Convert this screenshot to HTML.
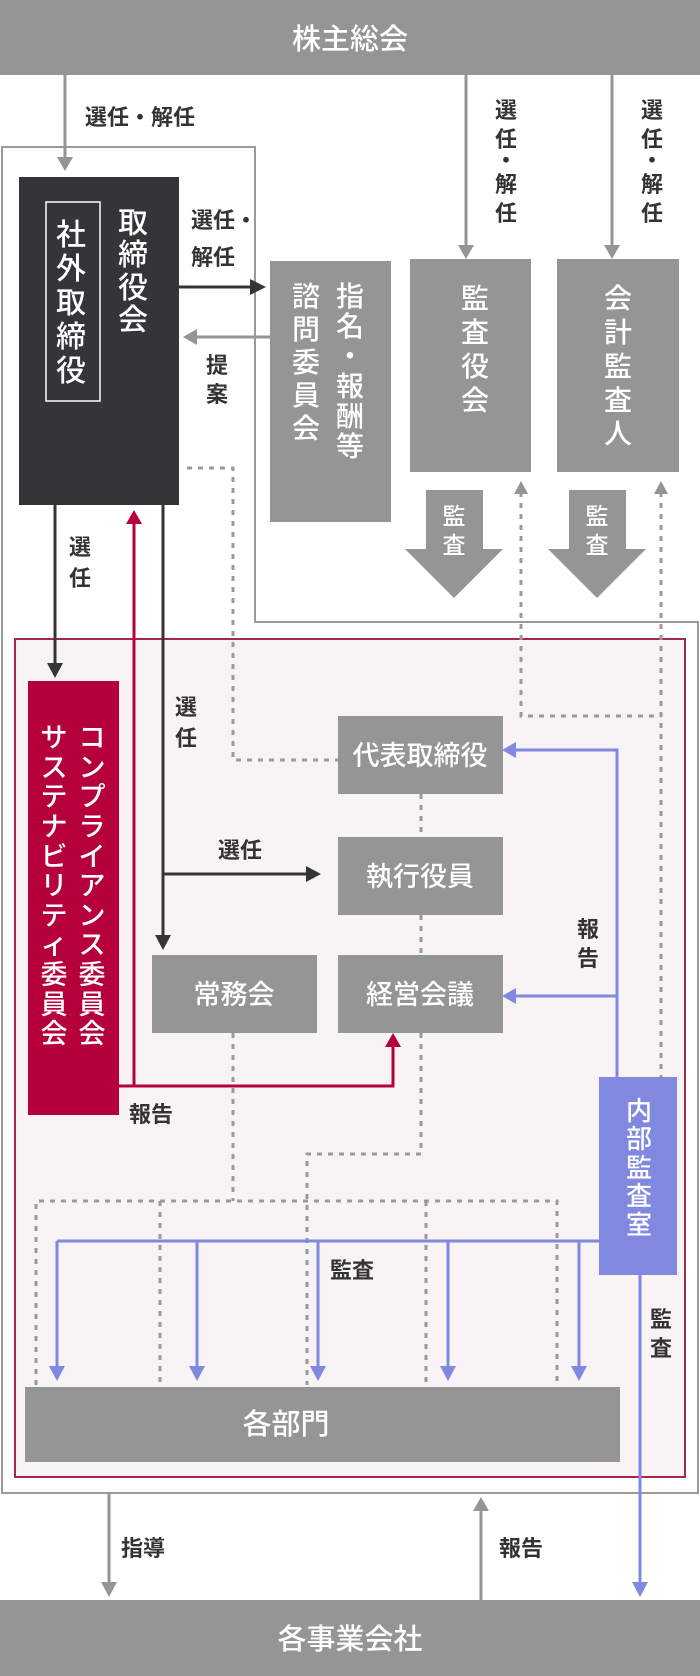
<!DOCTYPE html>
<html><head><meta charset="utf-8"><style>
html,body{margin:0;padding:0;background:#fff}
svg{display:block}
text{font-family:"Liberation Sans","Noto Sans CJK JP",sans-serif;font-weight:500}
.w{fill:#fff}.d{fill:#333;font-weight:700}
</style></head><body>
<svg width="700" height="1676" viewBox="0 0 700 1676" xmlns="http://www.w3.org/2000/svg">
<path d="M2,147 H255 V622 H698 V1493 H2 Z" fill="none" stroke="#9a9a9a" stroke-width="2"/>
<rect x="15" y="639" width="670" height="838" fill="#f8f3f5" stroke="#a3284d" stroke-width="2"/>

<rect x="0" y="0" width="700" height="75" fill="#959595"/>
<text x="350" y="49" font-size="29" class="w" text-anchor="middle">株主総会</text>
<rect x="0" y="1600" width="700" height="76" fill="#959595"/>
<text x="350" y="1649" font-size="29" class="w" text-anchor="middle">各事業会社</text>

<g stroke="#959595" stroke-width="3" fill="none">
<line x1="65" y1="75" x2="65" y2="160"/>
<line x1="466" y1="75" x2="466" y2="247"/>
<line x1="612" y1="75" x2="612" y2="247"/>
<line x1="270" y1="337" x2="195" y2="337"/>
<line x1="109" y1="1493" x2="109" y2="1584"/>
<line x1="481" y1="1600" x2="481" y2="1508"/>
</g>
<g fill="#959595">
<polygon points="57,157 73,157 65,171"/>
<polygon points="458,245 474,245 466,259"/>
<polygon points="604,245 620,245 612,259"/>
<polygon points="197,329 197,345 183,337"/>
<polygon points="101,1582 117,1582 109,1597"/>
<polygon points="473,1511 489,1511 481,1497"/>
<polygon points="426,490 483,490 483,549 503,549 454,598 405,549 426,549"/>
<polygon points="569,490 626,490 626,549 646,549 597,598 548,549 569,549"/>
</g>
<text x="85" y="125" font-size="22" class="d">選任・解任</text>

<g stroke="#9a9a9a" stroke-width="3" fill="none" stroke-dasharray="5 6">
<polyline points="187,468 233,468 233,760 338,760"/>
<polyline points="521,492 521,716 661,716"/>
<polyline points="661,492 661,1077"/>
<line x1="421" y1="794" x2="421" y2="837"/>
<line x1="421" y1="915" x2="421" y2="955"/>
<polyline points="421,1033 421,1154 307,1154 307,1385"/>
<polyline points="233,1033 233,1201"/>
<polyline points="36,1385 36,1201 557,1201 557,1385"/>
<line x1="160" y1="1201" x2="160" y2="1385"/>
<line x1="426" y1="1201" x2="426" y2="1385"/>
</g>
<g fill="#959595">
<polygon points="514,494 528,494 521,481"/>
<polygon points="654,494 668,494 661,481"/>
</g>

<rect x="19" y="177" width="160" height="328" fill="#343439"/>
<rect x="46" y="202" width="54" height="199" fill="none" stroke="#fff" stroke-width="1.5"/>
<text font-size="30" class="w" text-anchor="middle"><tspan x="71" y="245">社</tspan><tspan x="71" y="279">外</tspan><tspan x="71" y="313">取</tspan><tspan x="71" y="347">締</tspan><tspan x="71" y="381">役</tspan></text>
<text font-size="30" class="w" text-anchor="middle"><tspan x="133" y="233">取</tspan><tspan x="133" y="265">締</tspan><tspan x="133" y="298">役</tspan><tspan x="133" y="330">会</tspan></text>

<g stroke="#343439" stroke-width="3" fill="none">
<line x1="179" y1="287" x2="252" y2="287"/>
<line x1="55" y1="505" x2="55" y2="665"/>
<polyline points="163,505 163,937"/>
<line x1="163" y1="874" x2="307" y2="874"/>
</g>
<g fill="#343439">
<polygon points="250,279 250,295 266,287"/>
<polygon points="47,663 63,663 55,678"/>
<polygon points="155,935 171,935 163,950"/>
<polygon points="306,866 306,882 321,874"/>
</g>
<text x="191" y="228" font-size="22" class="d">選任・</text>
<text x="191" y="265" font-size="22" class="d">解任</text>
<text font-size="22" class="d" text-anchor="middle"><tspan x="217" y="373">提</tspan><tspan x="217" y="402">案</tspan></text>

<rect x="270" y="261" width="121" height="261" fill="#959595"/>
<text font-size="28" class="w" text-anchor="middle"><tspan x="350" y="306">指</tspan><tspan x="350" y="336">名</tspan><tspan x="350" y="366">・</tspan><tspan x="350" y="396">報</tspan><tspan x="350" y="426">酬</tspan><tspan x="350" y="456">等</tspan></text>
<text font-size="28" class="w" text-anchor="middle"><tspan x="306" y="306">諮</tspan><tspan x="306" y="339">問</tspan><tspan x="306" y="372">委</tspan><tspan x="306" y="405">員</tspan><tspan x="306" y="438">会</tspan></text>

<rect x="410" y="259" width="121" height="213" fill="#959595"/>
<text font-size="28" class="w" text-anchor="middle"><tspan x="475" y="308">監</tspan><tspan x="475" y="342">査</tspan><tspan x="475" y="376">役</tspan><tspan x="475" y="410">会</tspan></text>
<rect x="557" y="259" width="122" height="213" fill="#959595"/>
<text font-size="28" class="w" text-anchor="middle"><tspan x="618" y="308">会</tspan><tspan x="618" y="342">計</tspan><tspan x="618" y="376">監</tspan><tspan x="618" y="410">査</tspan><tspan x="618" y="443">人</tspan></text>
<text font-size="22" class="d" text-anchor="middle"><tspan x="506" y="118">選</tspan><tspan x="506" y="147">任</tspan><tspan x="506" y="168">・</tspan><tspan x="506" y="192">解</tspan><tspan x="506" y="221">任</tspan></text>
<text font-size="22" class="d" text-anchor="middle"><tspan x="652" y="118">選</tspan><tspan x="652" y="147">任</tspan><tspan x="652" y="168">・</tspan><tspan x="652" y="192">解</tspan><tspan x="652" y="221">任</tspan></text>
<text font-size="23" class="w" text-anchor="middle"><tspan x="454" y="524">監</tspan><tspan x="454" y="553">査</tspan></text>
<text font-size="23" class="w" text-anchor="middle"><tspan x="597" y="524">監</tspan><tspan x="597" y="553">査</tspan></text>

<text font-size="22" class="d" text-anchor="middle"><tspan x="80" y="555">選</tspan><tspan x="80" y="586">任</tspan></text>
<text font-size="22" class="d" text-anchor="middle"><tspan x="186" y="715">選</tspan><tspan x="186" y="746">任</tspan></text>
<text x="218" y="858" font-size="22" class="d">選任</text>

<rect x="28" y="681" width="91" height="434" fill="#b5003c"/>
<text font-size="27" class="w" text-anchor="middle">
<tspan x="92" y="747">コ</tspan><tspan x="92" y="777">ン</tspan><tspan x="92" y="806">プ</tspan><tspan x="92" y="836">ラ</tspan><tspan x="92" y="866">イ</tspan><tspan x="92" y="895">ア</tspan><tspan x="92" y="925">ン</tspan><tspan x="92" y="954">ス</tspan><tspan x="92" y="984">委</tspan><tspan x="92" y="1014">員</tspan><tspan x="92" y="1043">会</tspan></text>
<text font-size="27" class="w" text-anchor="middle">
<tspan x="54" y="747">サ</tspan><tspan x="54" y="777">ス</tspan><tspan x="54" y="806">テ</tspan><tspan x="54" y="836">ナ</tspan><tspan x="54" y="866">ビ</tspan><tspan x="54" y="895">リ</tspan><tspan x="54" y="925">テ</tspan><tspan x="54" y="954">ィ</tspan><tspan x="54" y="984">委</tspan><tspan x="54" y="1014">員</tspan><tspan x="54" y="1043">会</tspan></text>

<g stroke="#b5003c" stroke-width="3" fill="none">
<line x1="134" y1="1086" x2="134" y2="522"/>
<polyline points="119,1086 393,1086 393,1046"/>
</g>
<g fill="#b5003c">
<polygon points="126,524 142,524 134,510"/>
<polygon points="385,1047 401,1047 393,1033"/>
</g>
<text x="129" y="1122" font-size="22" class="d">報告</text>

<g fill="#959595">
<rect x="338" y="716" width="165" height="78"/>
<rect x="338" y="837" width="165" height="78"/>
<rect x="338" y="955" width="165" height="78"/>
<rect x="152" y="955" width="165" height="78"/>
</g>
<g font-size="27" class="w" text-anchor="middle">
<text x="420" y="765">代表取締役</text>
<text x="420" y="886">執行役員</text>
<text x="420" y="1004">経営会議</text>
<text x="234" y="1004">常務会</text>
</g>

<g stroke="#8088e0" stroke-width="3" fill="none">
<polyline points="617,1077 617,750 516,750"/>
<line x1="617" y1="996" x2="516" y2="996"/>
<line x1="57" y1="1241" x2="600" y2="1241"/>
<line x1="57" y1="1241" x2="57" y2="1368"/>
<line x1="197" y1="1241" x2="197" y2="1368"/>
<line x1="318" y1="1241" x2="318" y2="1368"/>
<line x1="448" y1="1241" x2="448" y2="1368"/>
<line x1="579" y1="1241" x2="579" y2="1368"/>
<line x1="640" y1="1275" x2="640" y2="1584"/>
</g>
<g fill="#8088e0">
<polygon points="516,742 516,758 502,750"/>
<polygon points="516,988 516,1004 502,996"/>
<polygon points="49,1366 65,1366 57,1381"/>
<polygon points="189,1366 205,1366 197,1381"/>
<polygon points="310,1366 326,1366 318,1381"/>
<polygon points="440,1366 456,1366 448,1381"/>
<polygon points="571,1366 587,1366 579,1381"/>
<polygon points="632,1582 648,1582 640,1597"/>
<rect x="599" y="1077" width="78" height="198"/>
</g>
<text font-size="26" class="w" text-anchor="middle"><tspan x="639" y="1120">内</tspan><tspan x="639" y="1148">部</tspan><tspan x="639" y="1177">監</tspan><tspan x="639" y="1205">査</tspan><tspan x="639" y="1234">室</tspan></text>
<text font-size="22" class="d" text-anchor="middle"><tspan x="588" y="937">報</tspan><tspan x="588" y="966">告</tspan></text>
<text x="330" y="1278" font-size="22" class="d">監査</text>
<text font-size="22" class="d" text-anchor="middle"><tspan x="661" y="1327">監</tspan><tspan x="661" y="1356">査</tspan></text>

<rect x="25" y="1387" width="595" height="75" fill="#959595"/>
<text x="286" y="1434" font-size="29" class="w" text-anchor="middle">各部門</text>

<text x="121" y="1556" font-size="22" class="d">指導</text>
<text x="499" y="1556" font-size="22" class="d">報告</text>
</svg>
</body></html>
